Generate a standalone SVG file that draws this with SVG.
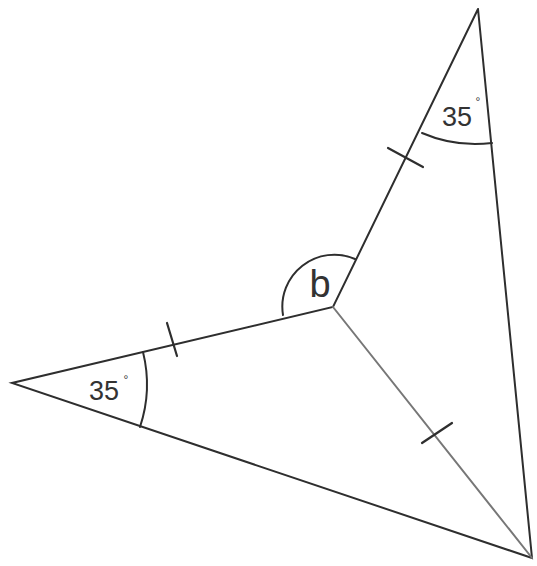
<svg xmlns="http://www.w3.org/2000/svg" width="537" height="566" viewBox="0 0 537 566">
<style>
.ln{stroke:#2e2e2e;stroke-width:2;fill:none;stroke-linecap:round}
.lt{stroke:#777;stroke-width:2;fill:none;stroke-linecap:round}
.tk{stroke:#2e2e2e;stroke-width:2.2;fill:none;stroke-linecap:round}
.lbl{font-family:"Liberation Sans",Arial,sans-serif;fill:#333}
</style>
<rect width="537" height="566" fill="#fff"/>
<g id="connectors">
<path class="ln" d="M478,9 L532,558 L12,383 L333,307 L478,9"/>
<path class="lt" d="M333,307 L532,558"/>
<path class="tk" d="M388,148 L423,167"/>
<path class="tk" d="M167,323 L177,356"/>
<path class="tk" d="M422,443 L452,423"/>
</g>
<g id="angle-top">
<path class="ln" d="M422,133 A135,135 0 0 0 492,143"/>
<text class="lbl" x="457" y="126" font-size="27" text-anchor="middle">35</text>
<text class="lbl" x="478" y="106" font-size="12" text-anchor="middle">°</text>
</g>
<g id="angle-left">
<path class="ln" d="M143,352 A135,135 0 0 1 140,427"/>
<text class="lbl" x="104" y="400" font-size="27" text-anchor="middle">35</text>
<text class="lbl" x="126" y="384" font-size="12" text-anchor="middle">°</text>
</g>
<g id="angle-b">
<path class="ln" d="M283,315 A52,52 0 0 1 355,259"/>
<text class="lbl" x="320" y="297" font-size="38" text-anchor="middle" fill="#111">b</text>
</g>
</svg>
